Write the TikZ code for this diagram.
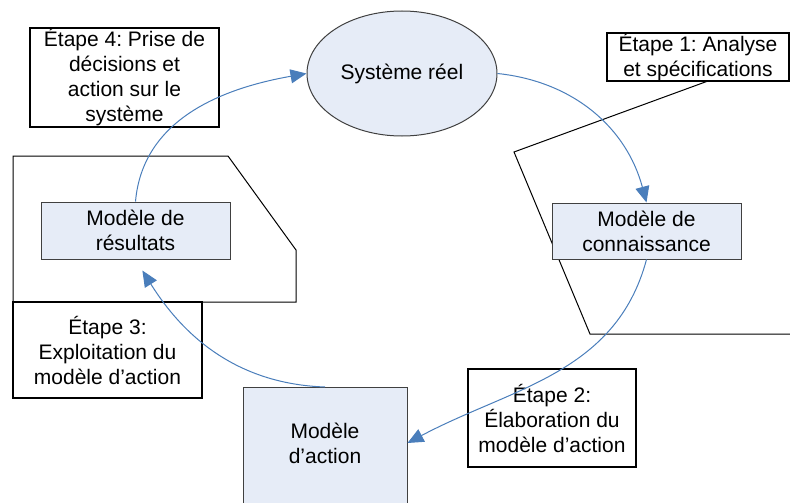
\documentclass[tikz,border=0pt]{standalone}
\usepackage{fontspec}
\setmainfont{Liberation Sans}
\usepackage{tikz}
\usetikzlibrary{%
  calc,
  positioning,
  shapes.geometric,
  arrows.meta,
}
\definecolor{boxfill}{RGB}{230,236,247}
\definecolor{flowblue}{RGB}{74,126,187}
\frenchspacing

\begin{document}
\begin{tikzpicture}[
    x = 1pt, y = 1pt,
    every node/.style = {
      align = center,
      inner sep = 0pt,
      font = \fontsize{21}{25}\selectfont,
    },
    stepbox/.style = {
      draw = black, line width = 2pt,
      fill = white,
    },
    modelbox/.style = {
      draw = black!75, line width = 1pt,
      fill = boxfill,
    },
    flow/.style = {
      flowblue, line width = 1pt,
      -{Triangle[length = 16pt, width = 14pt]},
    },
  ]
  \useasboundingbox (0,0) rectangle (790,-503);
  \clip (0,0) rectangle (790,-503);

  % frames
  \draw[line width = 1pt] (708,-81) -- (514,-152) -- (590,-334) -- (795,-334);
  \draw[line width = 1pt] (13,-156) -- (228,-156) -- (296,-250)
    -- (296,-302) -- (13,-302) -- cycle;

  \node[modelbox, ellipse, minimum width = 190, minimum height = 125]
    (sys) at (402,-73.5) {Système réel};

  \node[stepbox, minimum width = 182, minimum height = 48]
    (step1) at (698,-57) {Étape 1: Analyse\\et spécifications};
  \node[stepbox, minimum width = 168, minimum height = 98]
    (step2) at (552,-418) {Étape 2:\\Élaboration du\\modèle d’action};
  \node[stepbox, minimum width = 189, minimum height = 96]
    (step3) at (107.5,-350) {Étape 3:\\Exploitation du\\modèle d’action};
  \node[stepbox, minimum width = 189, minimum height = 99]
    (step4) at (124.5,-77.5) {Étape 4: Prise de\\décisions et\\action sur le\\système};

  \node[modelbox, minimum width = 189, minimum height = 56]
    (conn) at (646.5,-231) {Modèle de\\connaissance};
  \node[modelbox, minimum width = 189, minimum height = 57]
    (res) at (135.5,-230.5) {Modèle de\\résultats};
  \node[modelbox, minimum width = 164, minimum height = 140, anchor = north]
    (action) at (325,-387) {};
  \node (actiontxt) at (325,-443) {Modèle\\d’action};

  \begin{scope}[flow]
    \draw (sys.east) to[out = -6, in = 105] (conn.north);
    \draw (conn.south) to[out = -105, in = 28] (action.east |- actiontxt);
    \draw[shorten > = 13pt] (action.north) to[out = 178, in = -58] (res.south);
    \draw (res.north) to[out = 85, in = 190] (sys.west);
  \end{scope}
\end{tikzpicture}
\end{document}
